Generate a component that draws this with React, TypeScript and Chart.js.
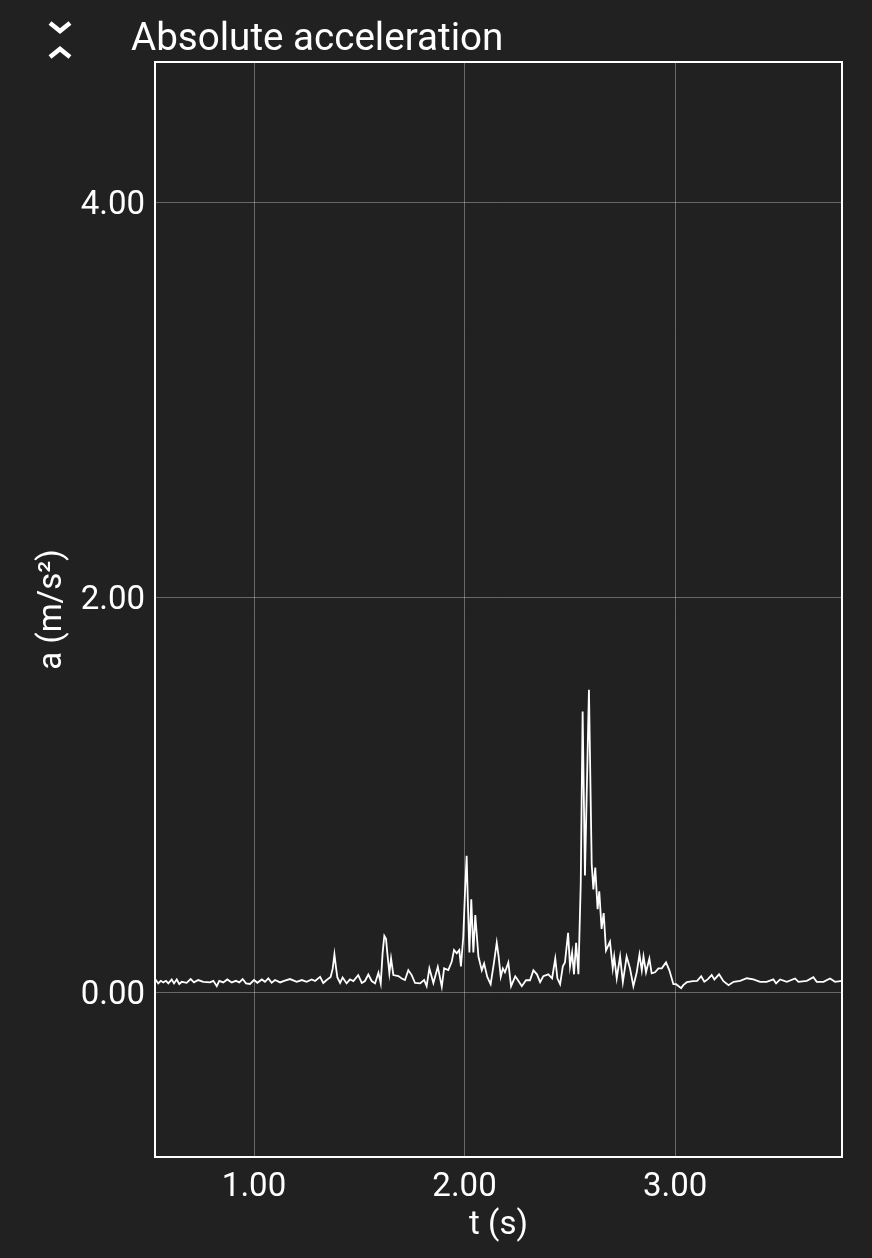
import React, { useEffect, useRef } from "react";
import { Chart, registerables } from "chart.js";

Chart.register(...registerables);

const titleText = "Absolute acceleration";
const xAxisTitle = "t (s)";
const yAxisTitle = "a (m/s²)";

const timeS = [
  0.530, 0.534, 0.545, 0.557, 0.569, 0.582, 0.593, 0.609, 0.620, 0.633, 0.645, 0.657, 0.680, 0.699, 0.715, 0.735,
  0.759, 0.791, 0.807, 0.823, 0.835, 0.854, 0.873, 0.894, 0.914, 0.930, 0.946, 0.962, 0.981, 1.000, 1.016, 1.037,
  1.052, 1.068, 1.084, 1.100, 1.124, 1.143, 1.171, 1.203, 1.227, 1.250, 1.274, 1.290, 1.314, 1.329, 1.345, 1.364,
  1.374, 1.382, 1.390, 1.396, 1.409, 1.421, 1.440, 1.456, 1.472, 1.495, 1.512, 1.527, 1.543, 1.559, 1.575, 1.591,
  1.602, 1.611, 1.619, 1.627, 1.633, 1.643, 1.651, 1.662, 1.686, 1.702, 1.717, 1.733, 1.749, 1.765, 1.789, 1.808,
  1.820, 1.833, 1.852, 1.873, 1.892, 1.903, 1.923, 1.939, 1.950, 1.963, 1.975, 1.983, 1.994, 2.002, 2.010, 2.016,
  2.023, 2.032, 2.042, 2.051, 2.066, 2.082, 2.093, 2.108, 2.124, 2.140, 2.153, 2.162, 2.172, 2.182, 2.192, 2.208,
  2.221, 2.241, 2.254, 2.272, 2.292, 2.311, 2.327, 2.344, 2.359, 2.374, 2.398, 2.416, 2.431, 2.441, 2.454, 2.467,
  2.477, 2.492, 2.501, 2.511, 2.520, 2.530, 2.541, 2.552, 2.561, 2.572, 2.591, 2.604, 2.612, 2.621, 2.632, 2.640,
  2.651, 2.661, 2.672, 2.691, 2.704, 2.711, 2.723, 2.739, 2.752, 2.770, 2.786, 2.802, 2.818, 2.831, 2.842, 2.850,
  2.862, 2.878, 2.889, 2.905, 2.921, 2.937, 2.957, 2.973, 2.992, 3.005, 3.029, 3.039, 3.056, 3.086, 3.105, 3.124,
  3.139, 3.155, 3.174, 3.187, 3.209, 3.230, 3.254, 3.278, 3.309, 3.341, 3.372, 3.404, 3.435, 3.467, 3.480, 3.499,
  3.531, 3.570, 3.586, 3.626, 3.657, 3.673, 3.705, 3.736, 3.760, 3.793,
];

const accel = [
  0.055, 0.061, 0.044, 0.057, 0.049, 0.057, 0.044, 0.064, 0.044, 0.064, 0.041, 0.052, 0.047, 0.066, 0.049, 0.061,
  0.052, 0.049, 0.057, 0.030, 0.057, 0.049, 0.064, 0.049, 0.057, 0.049, 0.066, 0.044, 0.041, 0.061, 0.047, 0.064,
  0.052, 0.069, 0.047, 0.061, 0.049, 0.057, 0.066, 0.052, 0.061, 0.052, 0.064, 0.056, 0.077, 0.046, 0.061, 0.077,
  0.120, 0.191, 0.120, 0.074, 0.046, 0.074, 0.044, 0.064, 0.056, 0.086, 0.046, 0.056, 0.089, 0.056, 0.044, 0.098,
  0.044, 0.200, 0.285, 0.270, 0.200, 0.095, 0.170, 0.086, 0.081, 0.069, 0.061, 0.111, 0.086, 0.046, 0.044, 0.061,
  0.030, 0.120, 0.046, 0.128, 0.027, 0.120, 0.111, 0.153, 0.213, 0.196, 0.213, 0.130, 0.280, 0.500, 0.690, 0.450,
  0.200, 0.470, 0.200, 0.390, 0.180, 0.110, 0.145, 0.077, 0.040, 0.150, 0.250, 0.180, 0.077, 0.120, 0.100, 0.150,
  0.030, 0.080, 0.060, 0.030, 0.060, 0.060, 0.110, 0.090, 0.050, 0.080, 0.090, 0.070, 0.170, 0.070, 0.040, 0.130,
  0.150, 0.300, 0.130, 0.200, 0.090, 0.250, 0.090, 0.550, 1.420, 0.590, 1.530, 0.650, 0.520, 0.630, 0.420, 0.510,
  0.320, 0.400, 0.210, 0.255, 0.120, 0.180, 0.070, 0.180, 0.050, 0.180, 0.120, 0.030, 0.100, 0.190, 0.110, 0.180,
  0.100, 0.170, 0.095, 0.100, 0.120, 0.120, 0.150, 0.110, 0.040, 0.040, 0.020, 0.035, 0.050, 0.055, 0.057, 0.080,
  0.052, 0.064, 0.086, 0.064, 0.090, 0.055, 0.035, 0.052, 0.057, 0.070, 0.064, 0.052, 0.052, 0.064, 0.044, 0.064,
  0.052, 0.069, 0.052, 0.057, 0.075, 0.052, 0.052, 0.069, 0.052, 0.057,
];

const xMin = 0.5297;
const xMax = 3.793;
const yMin = -0.835;
const yMax = 4.709;
const xStep = 1;
const yStep = 2;

const BG = "#212121";
const FG = "#ffffff";
const GRID = "rgba(255,255,255,0.32)";
const FONT = "Roboto, 'Noto Sans', sans-serif";

const frameAndTitle = {
  id: "frameAndTitle",
  beforeDraw(chart: any) {
    const ctx = chart.ctx;
    ctx.save();
    ctx.fillStyle = BG;
    ctx.fillRect(0, 0, chart.width, chart.height);
    ctx.restore();
  },
  afterDraw(chart: any) {
    const ctx = chart.ctx;
    const a = chart.chartArea;
    ctx.save();
    ctx.strokeStyle = FG;
    ctx.lineWidth = 2;
    ctx.strokeRect(a.left, a.top, a.right - a.left, a.bottom - a.top);
    ctx.fillStyle = FG;
    ctx.font = `38.6px ${FONT}`;
    ctx.textBaseline = "alphabetic";
    ctx.textAlign = "left";
    ctx.fillText(titleText, 131, 50);
    // collapse icon (two chevrons)
    ctx.lineWidth = 4.5;
    ctx.lineJoin = "miter";
    ctx.beginPath();
    ctx.moveTo(50, 23);
    ctx.lineTo(60, 31);
    ctx.lineTo(70, 23);
    ctx.stroke();
    ctx.beginPath();
    ctx.moveTo(50, 57);
    ctx.lineTo(60, 49);
    ctx.lineTo(70, 57);
    ctx.stroke();
    ctx.restore();
  },
};

export default function App() {
  const ref = useRef<HTMLCanvasElement | null>(null);

  useEffect(() => {
    if (!ref.current) return;
    const points = timeS.map((t, i) => ({ x: t, y: accel[i] }));
    const chart = new Chart(ref.current, {
      type: "line",
      data: {
        datasets: [
          {
            data: points,
            borderColor: FG,
            borderWidth: 1.8,
            pointRadius: 0,
            tension: 0,
            fill: false,
          },
        ],
      },
      options: {
        animation: false,
        responsive: false,
        devicePixelRatio: 1,
        parsing: false as any,
        layout: { padding: { left: 0, right: 30, top: 62, bottom: 0 } },
        plugins: {
          legend: { display: false },
          tooltip: { enabled: false },
          title: { display: false },
        },
        scales: {
          x: {
            type: "linear",
            min: xMin,
            max: xMax,
            afterFit(scale: any) {
              scale.height = 101;
            },
            border: { display: false },
            grid: { color: GRID, lineWidth: 1, drawTicks: false },
            ticks: {
              stepSize: xStep,
              includeBounds: false,
              autoSkip: false,
              maxRotation: 0,
              padding: 11,
              color: FG,
              font: { family: FONT, size: 33 },
              callback: (v: any) => Number(v).toFixed(2),
            },
            title: {
              display: true,
              text: xAxisTitle,
              color: FG,
              font: { family: FONT, size: 33 },
              padding: { top: 0, bottom: 12 },
            },
          },
          y: {
            type: "linear",
            min: yMin,
            max: yMax,
            afterFit(scale: any) {
              scale.width = 155;
            },
            border: { display: false },
            grid: { color: GRID, lineWidth: 1, drawTicks: false },
            ticks: {
              stepSize: yStep,
              includeBounds: false,
              autoSkip: false,
              padding: 10,
              labelOffset: 4,
              color: FG,
              font: { family: FONT, size: 33 },
              callback: (v: any) => Number(v).toFixed(2),
            },
            title: {
              display: true,
              text: yAxisTitle,
              color: FG,
              font: { family: FONT, size: 33 },
              padding: { top: 33, bottom: 0 },
            },
          },
        },
      },
      plugins: [frameAndTitle],
    });
    return () => chart.destroy();
  }, []);

  return (
    <div
      style={{
        position: "fixed",
        left: 0,
        top: 0,
        width: 872,
        height: 1258,
        background: BG,
      }}
    >
      <canvas ref={ref} width={872} height={1258} style={{ display: "block" }} />
    </div>
  );
}
